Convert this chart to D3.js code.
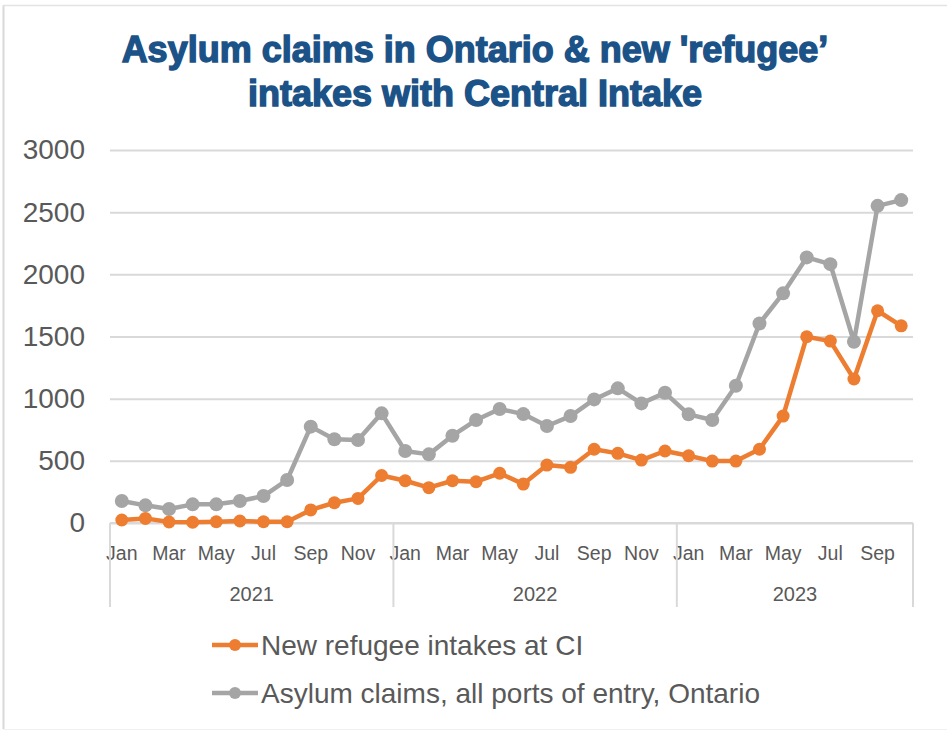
<!DOCTYPE html>
<html>
<head>
<meta charset="utf-8">
<script src="https://cdn.jsdelivr.net/npm/d3@7"></script>
<style>
  body { margin: 0; background: #fff; }
  svg { display: block; font-family: "Liberation Sans", Arial, sans-serif; }
</style>
</head>
<body>
<div id="chart"></div>
<script>
const months = ['Jan', 'Feb', 'Mar', 'Apr', 'May', 'Jun', 'Jul', 'Aug', 'Sep', 'Oct', 'Nov', 'Dec'];
const years = ['2021', '2022', '2023'];
const monthsPerYear = [12, 12, 10];
const yTicks = [0, 500, 1000, 1500, 2000, 2500, 3000];

// new refugee intakes at Central Intake, Jan 2021 - Oct 2023
const intakes = [24, 37, 8, 6, 10, 16, 10, 10, 105, 163, 198, 382,
  340, 284, 340, 332, 400, 313, 466, 448, 593, 560, 506, 579,
  541, 498, 498, 593, 860, 1498, 1463, 1158, 1707, 1586];
// asylum claims, all ports of entry, Ontario
const claims = [177, 142, 113, 150, 150, 177, 217, 346, 775, 673, 667, 882,
  579, 552, 702, 828, 917, 876, 780, 860, 994, 1083, 962, 1047,
  874, 828, 1104, 1605, 1847, 2136, 2082, 1458, 2551, 2597];

const categories = [];
years.forEach((y, i) => {
  for (let m = 0; m < monthsPerYear[i]; m++) categories.push(y + '-' + months[m]);
});

const series = [
  {name: 'New refugee intakes at CI', values: intakes, color: '#ED7D31', r: 6.5},
  {name: 'Asylum claims, all ports of entry, Ontario', values: claims, color: '#A5A5A5', r: 7}
];

const W = 947, H = 731;
const margin = {left: 110, right: 913, top: 150, bottom: 523};
const textColor = '#595959';
const gridColor = '#D9D9D9';

const svg = d3.select('#chart').append('svg')
  .attr('width', W)
  .attr('height', H);

// chart frame
svg.append('line').attr('x1', 3.5).attr('x2', 3.5).attr('y1', 5).attr('y2', 729)
  .attr('stroke', gridColor).attr('stroke-width', 2);
svg.append('line').attr('x1', 3).attr('x2', W).attr('y1', 5.5).attr('y2', 5.5)
  .attr('stroke', '#E3E3E3').attr('stroke-width', 1.5);
svg.append('line').attr('x1', 3).attr('x2', W).attr('y1', 729.5).attr('y2', 729.5)
  .attr('stroke', '#F0F0F0').attr('stroke-width', 1);

// title
const title = svg.append('text')
  .attr('x', 475)
  .attr('text-anchor', 'middle')
  .attr('fill', '#1B5287')
  .attr('stroke', '#1B5287')
  .attr('stroke-width', 1.4)
  .style('font-size', '36px')
  .style('font-weight', 'bold');
title.append('tspan').attr('x', 475).attr('y', 62).text('Asylum claims in Ontario & new \'refugee\u2019');
title.append('tspan').attr('x', 475).attr('y', 106).text('intakes with Central Intake');

const x = d3.scaleBand()
  .domain(categories)
  .range([margin.left, margin.right])
  .paddingInner(0)
  .paddingOuter(0);

const y = d3.scaleLinear()
  .domain([0, 3000])
  .range([margin.bottom, margin.top]);

// gridlines + y labels
const yAxis = svg.append('g')
  .attr('transform', 'translate(' + margin.left + ',0)')
  .call(d3.axisLeft(y).tickValues(yTicks).tickFormat(d3.format('d'))
    .tickSize(-(margin.right - margin.left)).tickPadding(25));
yAxis.select('.domain').remove();
yAxis.selectAll('.tick line').attr('stroke', gridColor).attr('stroke-width', 2);
yAxis.selectAll('.tick text')
  .attr('fill', textColor)
  .style('font-size', '28px')
  .style('font-family', '"Liberation Sans", Arial, sans-serif');

// category axis line
svg.append('line')
  .attr('x1', margin.left).attr('x2', margin.right)
  .attr('y1', margin.bottom).attr('y2', margin.bottom)
  .attr('stroke', gridColor).attr('stroke-width', 2);

// month labels (every other month)
const xAxis = svg.append('g')
  .attr('transform', 'translate(0,' + margin.bottom + ')')
  .call(d3.axisBottom(x)
    .tickValues(categories.filter((c, i) => i % 2 === 0))
    .tickFormat(c => c.split('-')[1])
    .tickSize(0)
    .tickPadding(23));
xAxis.select('.domain').remove();
xAxis.selectAll('.tick text')
  .attr('fill', textColor)
  .style('font-size', '19.5px')
  .style('font-family', '"Liberation Sans", Arial, sans-serif');

// year group separators and labels
let start = 0;
const bounds = [0];
monthsPerYear.forEach(n => { start += n; bounds.push(start); });
const boundX = b => b < categories.length ? x(categories[b]) : margin.right;
bounds.forEach(b => {
  svg.append('line')
    .attr('x1', boundX(b)).attr('x2', boundX(b))
    .attr('y1', margin.bottom).attr('y2', 607)
    .attr('stroke', gridColor).attr('stroke-width', 2);
});
years.forEach((yr, i) => {
  svg.append('text')
    .attr('x', (boundX(bounds[i]) + boundX(bounds[i + 1])) / 2)
    .attr('y', 601)
    .attr('text-anchor', 'middle')
    .attr('fill', textColor)
    .style('font-size', '20px')
    .text(yr);
});

// lines + markers
const cx = (d, i) => x(categories[i]) + x.bandwidth() / 2;
const line = d3.line()
  .x((d, i) => cx(d, i))
  .y(d => y(d));

// draw gray first so orange stays on top
[series[1], series[0]].forEach(s => {
  svg.append('path')
    .datum(s.values)
    .attr('fill', 'none')
    .attr('stroke', s.color)
    .attr('stroke-width', 4.5)
    .attr('stroke-linejoin', 'round')
    .attr('d', line);
  svg.append('g').selectAll('circle')
    .data(s.values)
    .enter().append('circle')
    .attr('cx', cx)
    .attr('cy', d => y(d))
    .attr('r', s.r)
    .attr('fill', s.color);
});

// legend
const legend = svg.append('g');
series.forEach((s, i) => {
  const ly = 645 + i * 48;
  legend.append('line')
    .attr('x1', 212).attr('x2', 258)
    .attr('y1', ly).attr('y2', ly)
    .attr('stroke', s.color).attr('stroke-width', 4.5);
  legend.append('circle')
    .attr('cx', 235).attr('cy', ly).attr('r', 6).attr('fill', s.color);
  legend.append('text')
    .attr('x', 261)
    .attr('y', ly + 10)
    .attr('fill', textColor)
    .style('font-size', '28px')
    .text(s.name);
});
</script>
</body>
</html>
